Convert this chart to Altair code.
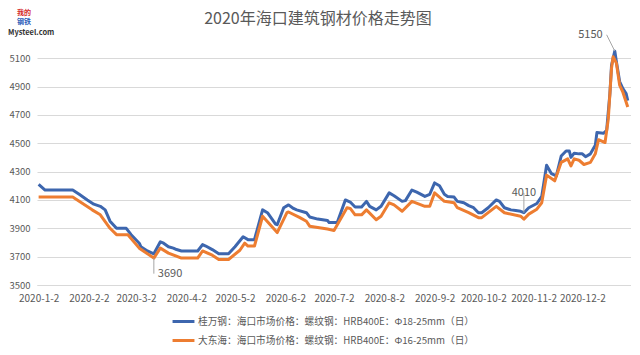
import altair as alt
import pandas as pd

series_names = [
    "桂万钢：海口市场价格：螺纹钢：HRB400E：Φ18-25mm（日）",
    "大东海：海口市场价格：螺纹钢：HRB400E：Φ16-25mm（日）",
]
series_colors = ["#3D66AE", "#ED7D31"]

blue_dates = [
    "2020-01-02", "2020-01-06", "2020-01-23", "2020-01-27", "2020-02-01", "2020-02-05",
    "2020-02-09", "2020-02-12", "2020-02-15", "2020-02-19", "2020-02-25", "2020-02-28",
    "2020-03-04", "2020-03-05", "2020-03-09", "2020-03-13", "2020-03-17", "2020-03-19",
    "2020-03-22", "2020-03-25", "2020-03-27", "2020-03-30", "2020-04-09", "2020-04-12",
    "2020-04-14", "2020-04-18", "2020-04-22", "2020-04-28", "2020-05-02", "2020-05-07",
    "2020-05-10", "2020-05-14", "2020-05-19", "2020-05-22", "2020-05-27", "2020-05-28",
    "2020-06-01", "2020-06-04", "2020-06-07", "2020-06-09", "2020-06-15", "2020-06-17",
    "2020-06-22", "2020-06-28", "2020-06-29", "2020-07-04", "2020-07-09", "2020-07-12",
    "2020-07-15", "2020-07-19", "2020-07-22", "2020-07-24", "2020-07-28", "2020-07-31",
    "2020-08-05", "2020-08-08", "2020-08-13", "2020-08-15", "2020-08-19", "2020-08-22",
    "2020-08-27", "2020-08-30", "2020-09-02", "2020-09-05", "2020-09-08", "2020-09-10",
    "2020-09-14", "2020-09-16", "2020-09-20", "2020-09-23", "2020-09-26", "2020-09-29",
    "2020-10-01", "2020-10-05", "2020-10-10", "2020-10-12", "2020-10-15", "2020-10-19",
    "2020-10-22", "2020-10-25", "2020-10-27", "2020-10-30", "2020-11-04", "2020-11-07",
    "2020-11-10", "2020-11-13", "2020-11-16", "2020-11-19", "2020-11-22", "2020-11-24",
    "2020-11-25", "2020-11-27", "2020-11-30", "2020-12-02", "2020-12-04", "2020-12-07",
    "2020-12-10", "2020-12-11", "2020-12-15", "2020-12-17", "2020-12-19", "2020-12-20",
    "2020-12-22", "2020-12-23", "2020-12-25", "2020-12-27", "2020-12-29", "2020-12-30",
]
blue_values = [
    4210, 4170, 4170, 4140, 4100, 4070,
    4055, 4030, 3950, 3900, 3900, 3855,
    3795, 3770, 3740, 3720, 3805, 3795,
    3770, 3760, 3750, 3740, 3740, 3785,
    3775, 3750, 3720, 3720, 3770, 3840,
    3820, 3820, 4030, 4010, 3930, 3925,
    4045, 4065, 4040, 4030, 4010, 3980,
    3965, 3955, 3940, 3940, 4100, 4085,
    4050, 4050, 4090, 4055, 4030, 4055,
    4150, 4130, 4090, 4095, 4170, 4155,
    4125, 4140, 4220, 4200, 4140, 4125,
    4120, 4090, 4080, 4060, 4045, 4010,
    4010, 4045, 4100, 4090, 4045, 4030,
    4025, 4020, 4010, 4045, 4075, 4125,
    4345, 4285, 4270, 4410, 4445, 4445,
    4400, 4430, 4425, 4425, 4405, 4425,
    4485, 4575, 4570, 4590, 4850, 5050,
    5150, 5075, 4935, 4885, 4850, 4800,
]

orange_dates = [
    "2020-01-02", "2020-01-23", "2020-02-04", "2020-02-09", "2020-02-15", "2020-02-19",
    "2020-02-26", "2020-03-04", "2020-03-13", "2020-03-17", "2020-03-22", "2020-03-30",
    "2020-04-09", "2020-04-12", "2020-04-18", "2020-04-22", "2020-04-28", "2020-05-05",
    "2020-05-08", "2020-05-10", "2020-05-14", "2020-05-19", "2020-05-28", "2020-06-03",
    "2020-06-04", "2020-06-11", "2020-06-15", "2020-06-17", "2020-06-28", "2020-07-02",
    "2020-07-10", "2020-07-12", "2020-07-15", "2020-07-19", "2020-07-22", "2020-07-28",
    "2020-07-31", "2020-08-05", "2020-08-08", "2020-08-13", "2020-08-19", "2020-08-27",
    "2020-08-30", "2020-09-02", "2020-09-08", "2020-09-14", "2020-09-16", "2020-09-23",
    "2020-09-29", "2020-10-01", "2020-10-10", "2020-10-15", "2020-10-25", "2020-10-27",
    "2020-10-30", "2020-11-04", "2020-11-07", "2020-11-10", "2020-11-15", "2020-11-19",
    "2020-11-23", "2020-11-25", "2020-11-27", "2020-11-30", "2020-12-03", "2020-12-07",
    "2020-12-10", "2020-12-12", "2020-12-16", "2020-12-18", "2020-12-20", "2020-12-21",
    "2020-12-23", "2020-12-25", "2020-12-27", "2020-12-30",
]
orange_values = [
    4120, 4120, 4030, 3995, 3900, 3855,
    3855, 3760, 3690, 3760, 3725, 3690,
    3690, 3740, 3710, 3680, 3680, 3745,
    3795, 3775, 3775, 3985, 3870, 4010,
    4015, 3975, 3950, 3915, 3895, 3885,
    4045, 4040, 3995, 3995, 4030, 3960,
    3985, 4080, 4065, 4020, 4090, 4055,
    4055, 4150, 4090, 4080, 4045, 4010,
    3975, 3975, 4055, 4010, 3985, 3965,
    4000, 4035, 4080, 4275, 4235, 4365,
    4390, 4340, 4390, 4380, 4350, 4365,
    4425, 4525, 4505, 4670, 5030, 5110,
    5065, 4910, 4860, 4755,
]

# annotations: labelled point, and the spot where its label sits
ann_text = ["3690", "4010", "5150"]
ann_date = ["2020-03-13", "2020-10-27", "2020-12-22"]
ann_value = [3690, 4010, 5150]
ann_label_date = ["2020-03-13", "2020-10-27", "2020-12-17"]
ann_label_value = [3580, 4150, 5265]
ann_align = ["left", "center", "right"]

y_ticks = [3500, 3700, 3900, 4100, 4300, 4500, 4700, 4900, 5100]

title_text = "2020年海口建筑钢材价格走势图"

logo_text = ["我的", "钢铁", "Mysteel.com"]
logo_color = ["#D42A2A", "#2A5CB8", "#333333"]

FONT = "Noto Sans CJK SC"
GREY = "#595959"

df = pd.concat([
    pd.DataFrame({"date": blue_dates, "value": blue_values, "series": series_names[0]}),
    pd.DataFrame({"date": orange_dates, "value": orange_values, "series": series_names[1]}),
])

ann = pd.DataFrame({
    "text": ann_text, "date": ann_date, "value": ann_value,
    "ldate": ann_label_date, "lvalue": ann_label_value, "align": ann_align,
})

x_scale = alt.Scale(
    type="utc",
    domain=[alt.DateTime(year=2020, month=1, date=1, utc=True),
            alt.DateTime(year=2021, month=1, date=1, utc=True)],
)
y_scale = alt.Scale(domain=[3500, 5200], nice=False, zero=False)

x_axis = alt.Axis(
    values=[alt.DateTime(year=2020, month=m, date=2, utc=True) for m in range(1, 13)],
    labelExpr="utcFormat(datum.value, '%Y-%-m-%-d')",
    title=None, grid=False, ticks=False, domain=True, domainColor="#D9D9D9",
    labelFont=FONT, labelFontSize=10, labelColor=GREY, labelPadding=8,
    labelOverlap=False,
)
y_axis = alt.Axis(
    values=y_ticks, format="d", title=None, grid=True, gridColor="#D9D9D9", ticks=False,
    domain=False, labelFont=FONT, labelFontSize=9.5, labelColor=GREY, labelPadding=7,
    labelOverlap=False,
)

color = alt.Color(
    "series:N",
    scale=alt.Scale(domain=series_names, range=series_colors),
    legend=alt.Legend(
        title=None, orient="none", legendX=134, legendY=265, direction="vertical",
        symbolType="stroke", symbolStrokeWidth=3, symbolSize=480,
        labelFont=FONT, labelFontSize=9.7, labelColor=GREY, labelLimit=500,
        rowPadding=0, labelOffset=2,
    ),
)

lines = []
for name in series_names:
    lines.append(
        alt.Chart(df).transform_filter(alt.datum.series == name)
        .mark_line(strokeWidth=3, strokeJoin="round")
        .encode(
            x=alt.X("date:T", scale=x_scale, axis=x_axis),
            y=alt.Y("value:Q", scale=y_scale, axis=y_axis),
            color=color,
        )
    )

leaders = alt.Chart(ann).mark_rule(color="#A6A6A6", strokeWidth=1).encode(
    x=alt.X("date:T", scale=x_scale, axis=x_axis),
    y=alt.Y("value:Q", scale=y_scale, axis=y_axis),
    x2="ldate:T", y2="lvalue:Q",
)

labels = []
for a in ["left", "center", "right"]:
    dx = {"left": 4, "center": 0, "right": -4}[a]
    labels.append(
        alt.Chart(ann).transform_filter(alt.datum.align == a)
        .mark_text(align=a, baseline="middle", dx=dx, font=FONT, fontSize=11, color=GREY)
        .encode(
            x=alt.X("ldate:T", scale=x_scale, axis=x_axis),
            y=alt.Y("lvalue:Q", scale=y_scale, axis=y_axis),
            text="text:N",
        )
    )

title_layer = alt.Chart(pd.DataFrame({"t": [title_text]})).mark_text(
    align="center", baseline="middle", font=FONT, fontSize=16, color=GREY
).encode(x=alt.value(281), y=alt.value(-25), text="t:N")

logo_df = pd.DataFrame({"t": logo_text, "c": logo_color})
logo_layers = [
    alt.Chart(logo_df.iloc[[0]]).mark_text(
        align="center", baseline="middle", font=FONT, fontSize=7, fontWeight="bold",
        color=logo_color[0]).encode(x=alt.value(-13), y=alt.value(-31), text="t:N"),
    alt.Chart(logo_df.iloc[[1]]).mark_text(
        align="center", baseline="middle", font=FONT, fontSize=7, fontWeight="bold",
        color=logo_color[1]).encode(x=alt.value(-13), y=alt.value(-22), text="t:N"),
    alt.Chart(logo_df.iloc[[2]]).mark_text(
        align="left", baseline="middle", font=FONT, fontSize=7.5, fontWeight="bold",
        color=logo_color[2]).encode(x=alt.value(-29), y=alt.value(-11), text="t:N"),
]

chart = alt.layer(*lines, leaders, *labels, title_layer, *logo_layers).properties(
    width=594,
    height=241,
    autosize=alt.AutoSizeParams(type="none"),
    padding={"left": 29, "top": 36, "right": 0, "bottom": 62},
).configure_view(stroke=None)

chart.save("out.html", embed_options={"renderer": "svg", "actions": False})
